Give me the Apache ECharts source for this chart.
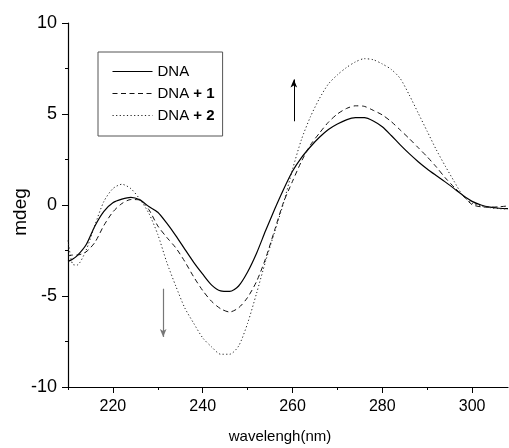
<!DOCTYPE html>
<html><head><meta charset="utf-8">
<script src="https://cdn.jsdelivr.net/npm/echarts@6/dist/echarts.min.js"></script>
<style>html,body{margin:0;padding:0;background:#fff}#c{width:509px;height:448px}</style>
</head><body><div id="c"></div>
<script>
const wavelength = [210,211,212,214,216,218,220,222,224,226,228,230,232,234,236,238,240,242,244,246,248,250,252,254,256,258,260,262,264,266,268,270,272,274,276,278,280,282,284,286,288,290,292,294,296,298,300,302,304,306,308];
const dna = [-3.1,-2.98,-2.8,-2.2,-1.15,-0.35,0.12,0.32,0.42,0.28,-0.08,-0.4,-1.0,-1.68,-2.42,-3.15,-3.8,-4.4,-4.72,-4.75,-4.45,-3.68,-2.65,-1.42,-0.25,0.85,1.85,2.6,3.2,3.72,4.15,4.45,4.68,4.8,4.8,4.62,4.3,3.82,3.3,2.82,2.38,1.98,1.62,1.27,0.9,0.52,0.2,0.0,-0.12,-0.18,-0.2];
const dna1 = [-2.8,-2.75,-2.75,-2.58,-2.05,-1.12,-0.38,0.08,0.3,0.28,-0.25,-1.15,-1.78,-2.35,-3.1,-3.95,-4.7,-5.3,-5.7,-5.88,-5.65,-5.08,-4.2,-2.95,-1.4,0.15,1.3,2.4,3.3,3.95,4.55,5.0,5.3,5.45,5.42,5.2,4.95,4.58,4.12,3.65,3.15,2.65,2.1,1.5,0.98,0.5,0.02,-0.1,-0.12,-0.1,-0.05];
const dna2 = [-1.95,-3.25,-3.3,-2.5,-1.1,0.2,0.9,1.14,0.9,0.32,-0.45,-1.62,-3.15,-4.45,-5.65,-6.5,-7.3,-7.8,-8.2,-8.2,-7.75,-6.5,-4.85,-3.1,-1.5,0.1,1.95,3.6,4.85,5.85,6.65,7.15,7.55,7.86,8.04,7.98,7.75,7.45,6.95,6.05,5.05,4.05,3.05,2.15,1.3,0.5,0.1,-0.05,-0.15,-0.2,-0.22];
const seriesNames = ['DNA', 'DNA + 1', 'DNA + 2'];
const xMajorTicks = [220, 240, 260, 280, 300];
const xMinorTicks = [210, 230, 250, 270, 290];
const arrowUp = [[260.3, 4.6], [260.3, 6.9]];
const arrowDown = [[231.2, -4.6], [231.2, -7.25]];

const FONT = "'Liberation Sans', Arial, sans-serif";
const pairs = arr => wavelength.map((w, i) => [w, arr[i]]);

const chart = echarts.init(document.getElementById('c'));
chart.setOption({
  animation: false,
  backgroundColor: '#fff',
  textStyle: { fontFamily: FONT },
  grid: { left: 68, right: 1, top: 23, bottom: 61, containLabel: false, outerBoundsMode: 'none' },
  legend: {
    data: seriesNames,
    orient: 'vertical',
    left: 98, top: 52,
    padding: [12, 8, 13, 14],
    borderColor: '#555', borderWidth: 1,
    itemWidth: 40, itemHeight: 14, itemGap: 7,
    itemStyle: { opacity: 0 },
    lineStyle: { width: 1 },
    textStyle: { fontFamily: FONT, fontSize: 15, color: '#000', lineHeight: 14,
      rich: { b: { fontFamily: FONT, fontSize: 15, fontWeight: 'bold', color: '#000', lineHeight: 14 } } },
    formatter: name => {
      const m = name.match(/^(DNA)( \+ \d)$/);
      return m ? m[1] + ' {b|' + m[2].trim() + '}' : name;
    }
  },
  xAxis: [{
    type: 'value', min: 210, max: 308,
    name: 'wavelengh(nm)', nameLocation: 'middle', nameGap: 42, nameMoveOverlap: false,
    nameTextStyle: { fontFamily: FONT, fontSize: 15, color: '#000', padding: [0, 16, 0, 0] },
    axisLine: { show: true, onZero: false, lineStyle: { color: '#000', width: 1.2 } },
    axisTick: { show: true, length: 6, lineStyle: { color: '#000' }, customValues: xMajorTicks },
    axisLabel: { fontFamily: FONT, fontSize: 16, color: '#000', margin: 12, customValues: xMajorTicks },
    splitLine: { show: false }
  }, {
    type: 'value', min: 210, max: 308, position: 'bottom',
    axisLine: { show: false, onZero: false },
    axisTick: { show: true, length: 3, lineStyle: { color: '#000' }, customValues: xMinorTicks },
    axisLabel: { show: false },
    splitLine: { show: false }
  }],
  yAxis: {
    type: 'value', min: -10, max: 10, interval: 5,
    name: 'mdeg', nameLocation: 'middle', nameGap: 38, nameMoveOverlap: false,
    nameTextStyle: { fontFamily: FONT, fontSize: 19, color: '#000', padding: [0, 14, 0, 0] },
    axisLine: { show: true, onZero: false, lineStyle: { color: '#000', width: 1.2 } },
    axisTick: { show: true, length: 6, lineStyle: { color: '#000' } },
    minorTick: { show: true, splitNumber: 2, length: 3, lineStyle: { color: '#000' } },
    axisLabel: { fontFamily: FONT, fontSize: 18, color: '#000', margin: 11 },
    splitLine: { show: false }
  },
  series: [
    { name: seriesNames[0], type: 'line', data: pairs(dna), smooth: 0.25, symbol: 'none',
      lineStyle: { color: '#000', width: 1.2, type: 'solid' }, itemStyle: { color: '#000' } },
    { name: seriesNames[1], type: 'line', data: pairs(dna1), smooth: 0.25, symbol: 'none',
      lineStyle: { color: '#111', width: 1, type: [5, 3.5] }, itemStyle: { color: '#111' } },
    { name: seriesNames[2], type: 'line', data: pairs(dna2), smooth: 0.25, symbol: 'none',
      lineStyle: { color: '#222', width: 1, type: [1.2, 2.4] }, itemStyle: { color: '#222' } },
    { name: 'arrows', type: 'line', data: [], symbol: 'none',
      markLine: {
        silent: true, symbol: ['none', 'arrow'], symbolSize: [5, 8],
        label: { show: false },
        lineStyle: { type: 'solid', width: 1, color: '#000' },
        data: [
          [{ coord: arrowUp[0] }, { coord: arrowUp[1] }],
          [{ coord: arrowDown[0], lineStyle: { color: '#777', width: 1.2 } }, { coord: arrowDown[1] }]
        ]
      } }
  ]
});
</script>
</body></html>
